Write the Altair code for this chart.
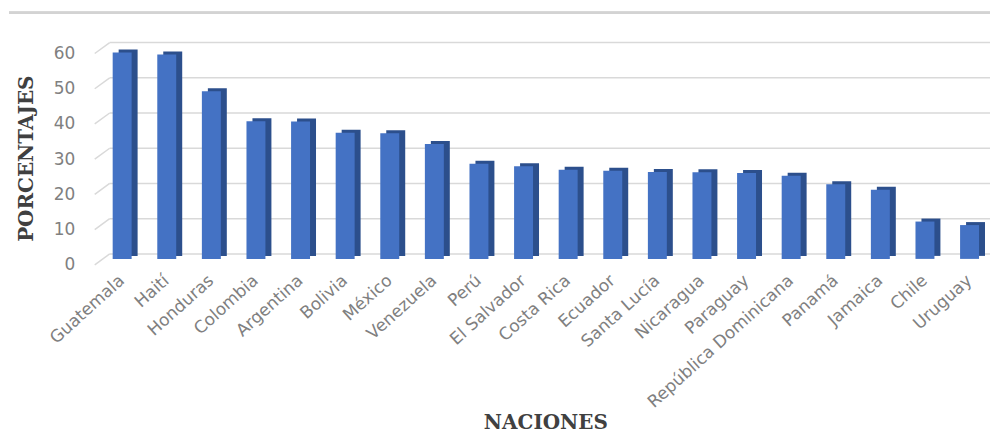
import altair as alt
import pandas as pd

countries = ["Guatemala", "Haití", "Honduras", "Colombia", "Argentina", "Bolivia",
             "México", "Venezuela", "Perú", "El Salvador", "Costa Rica", "Ecuador",
             "Santa Lucía", "Nicaragua", "Paraguay", "República Dominicana", "Panamá",
             "Jamaica", "Chile", "Uruguay"]
values = [58.6, 58.0, 47.6, 39.1, 39.0, 35.8, 35.7, 32.6, 27.0, 26.3, 25.3, 25.0,
          24.7, 24.6, 24.4, 23.6, 21.2, 19.6, 10.6, 9.6]
y_ticks = [0, 10, 20, 30, 40, 50, 60]

df = pd.DataFrame({"pais": countries, "valor": values})
grid_df = pd.DataFrame({"valor": y_ticks})

W, H = 875, 212

x_enc = alt.X(
    "pais:N", sort=countries,
    scale=alt.Scale(paddingInner=0.575, paddingOuter=0.067),
    axis=alt.Axis(
        title="NACIONES", labelAngle=-42, labelAlign="right", labelBaseline="middle",
        labelPadding=24, domain=False, ticks=False, labelFont="DejaVu Sans",
        labelFontSize=17, labelColor="#808080", labelOverlap=False, labelLimit=400,
        titleFont="DejaVu Serif", titleFontWeight="bold", titleFontSize=20,
        titleColor="#404040", titleX=437, titleY=175, titleBaseline="alphabetic",
        titleAlign="center",
    ),
)

y_enc = alt.Y(
    "valor:Q",
    scale=alt.Scale(domain=[0, 60], nice=False, zero=True),
    axis=alt.Axis(
        title="PORCENTAJES", values=y_ticks, grid=False, domain=False, ticks=False,
        tickSize=0, labelPadding=35, labelOffset=11, labelFont="DejaVu Sans",
        labelFontSize=17, labelColor="#808080",
        titleFont="DejaVu Serif", titleFontWeight="bold", titleFontSize=20,
        titleColor="#404040", titleX=-83, titleY=116, titleAngle=-90,
        titleBaseline="middle", titleAlign="center",
    ),
)

border = alt.Chart(grid_df).mark_rule(color="#d3d3d3", strokeWidth=2).encode(
    x=alt.value(-101), x2=alt.value(W + 8), y=alt.value(-30)
)

grid = alt.Chart(grid_df).mark_rule(color="#d9d9d9", strokeWidth=1.5).encode(
    y=y_enc, x=alt.value(0), x2=alt.value(W + 8)
)

stubs = alt.Chart(grid_df).mark_rule(
    color="#d9d9d9", strokeWidth=1.5, yOffset=11, y2Offset=0
).encode(y=y_enc, y2=alt.Y2("valor:Q"), x=alt.value(-15), x2=alt.value(0))

back = alt.Chart(df).mark_bar(color="#2c4f8c", xOffset=6, yOffset=2).encode(
    x=x_enc, y=y_enc
)
front = alt.Chart(df).mark_bar(color="#4472C4", yOffset=5).encode(
    x=x_enc, y=y_enc
)

chart = alt.layer(border, grid, stubs, back, front).properties(
    width=W, height=H,
    autosize=alt.AutoSizeParams(type="none"),
    padding={"left": 102, "top": 34, "right": 8, "bottom": 184},
    background="white",
).configure_view(stroke=None)

chart.save("out.html", embed_options={"renderer": "svg", "actions": False})
